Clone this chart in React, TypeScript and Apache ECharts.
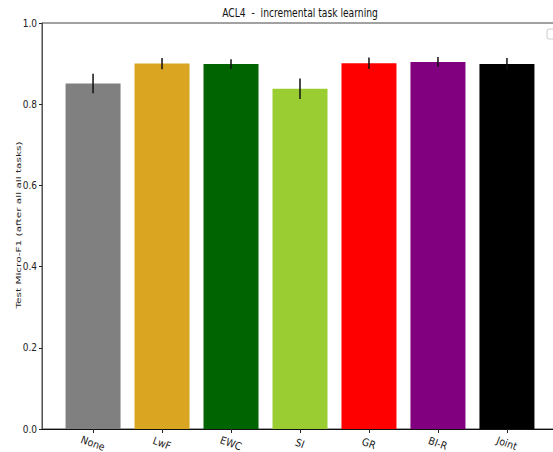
import React, { useEffect, useRef } from "react";
import * as echarts from "echarts";

// Methods compared, in plotting order
const methods = ["None", "LwF", "EWC", "SI", "GR", "BI-R", "Joint"];
// Mean test micro-F1 after all tasks
const meanScores = [0.851, 0.900, 0.899, 0.838, 0.901, 0.904, 0.899];
// Standard error of the mean
const scoreErrors = [0.024, 0.014, 0.012, 0.025, 0.014, 0.012, 0.015];
const barColors = ["#808080", "#DAA520", "#006400", "#9ACD32", "#FF0000", "#800080", "#000000"];
const yTicks = [0, 0.2, 0.4, 0.6, 0.8, 1.0];

const NARROW = "'Liberation Sans Narrow', 'DejaVu Sans Condensed', sans-serif";

export default function App() {
  const ref = useRef<HTMLDivElement>(null);

  useEffect(() => {
    if (!ref.current) return;
    const chart = echarts.init(ref.current, null, { renderer: "svg" });

    const barData = meanScores.map((v, i) => ({
      value: [i, v],
      itemStyle: { color: barColors[i] },
    }));
    const errData = meanScores.map((v, i) => [i, v - scoreErrors[i], v + scoreErrors[i]]);

    chart.setOption({
      animation: false,
      backgroundColor: "#ffffff",
      grid: {
        left: 42,
        top: 23,
        width: 516,
        bottom: 23,
        outerBoundsMode: "none",
        containLabel: false,
        show: true,
        borderColor: "#444",
        borderWidth: 1,
        backgroundColor: "transparent",
      },
      xAxis: {
        type: "value",
        min: -0.74,
        max: 6.74,
        splitLine: { show: false },
        axisLine: { show: true, onZero: false, lineStyle: { color: "#111", width: 1 } },
        axisTick: { show: true, customValues: methods.map((_, i) => i), length: 4, lineStyle: { color: "#222" } },
        axisLabel: {
          customValues: methods.map((_, i) => i),
          formatter: (v: number) => methods[Math.round(v)] ?? "",
          rotate: -20,
          align: "center",
          margin: 14,
          fontFamily: NARROW,
          fontSize: 10.5,
          color: "#222",
        },
      },
      yAxis: {
        type: "value",
        min: 0,
        max: 1,
        interval: 0.2,
        splitLine: { show: false },
        axisLine: { show: true, onZero: false, lineStyle: { color: "#555", width: 1 } },
        axisTick: { show: true, length: 3, lineStyle: { color: "#222" } },
        axisLabel: {
          formatter: (v: number) => (yTicks.some((t) => Math.abs(t - v) < 1e-9) ? v.toFixed(1) : ""),
          fontFamily: NARROW,
          fontSize: 10,
          color: "#222",
          margin: 5,
        },
      },
      series: [
        {
          type: "bar",
          data: barData,
          barWidth: 55,
        },
        {
          type: "custom",
          data: errData,
          z: 10,
          renderItem: (_params: any, api: any) => {
            const x = api.value(0);
            const lo = api.coord([x, api.value(1)]);
            const hi = api.coord([x, api.value(2)]);
            return {
              type: "line",
              shape: { x1: lo[0], y1: lo[1], x2: hi[0], y2: hi[1] },
              style: { stroke: "#111", lineWidth: 1.5 },
            };
          },
        },
      ],
      graphic: [
        {
          type: "text",
          x: 300,
          y: 19,
          scaleX: 0.85,
          style: {
            text: "ACL4  -  incremental task learning",
            fontFamily: "'DejaVu Sans Condensed', sans-serif",
            fontSize: 12,
            fill: "#111",
            align: "center",
            verticalAlign: "bottom",
          },
        },
        {
          // y-axis title, drawn vertically and slightly condensed
          type: "text",
          x: 19,
          y: 225,
          rotation: Math.PI / 2,
          scaleY: 0.7,
          style: {
            text: "Test Micro-F1 (after all all tasks)",
            fontFamily: "'DejaVu Sans', sans-serif",
            fontSize: 10.5,
            fill: "#222",
            align: "center",
            verticalAlign: "middle",
          },
        },
        {
          type: "rect",
          shape: { x: 547, y: 29, width: 14, height: 10, r: 2 },
          style: { fill: "#fff", stroke: "#ccc", lineWidth: 1 },
        },
      ],
    });

    return () => chart.dispose();
  }, []);

  return <div ref={ref} style={{ width: 553, height: 452, position: "absolute", left: 0, top: 0 }} />;
}
